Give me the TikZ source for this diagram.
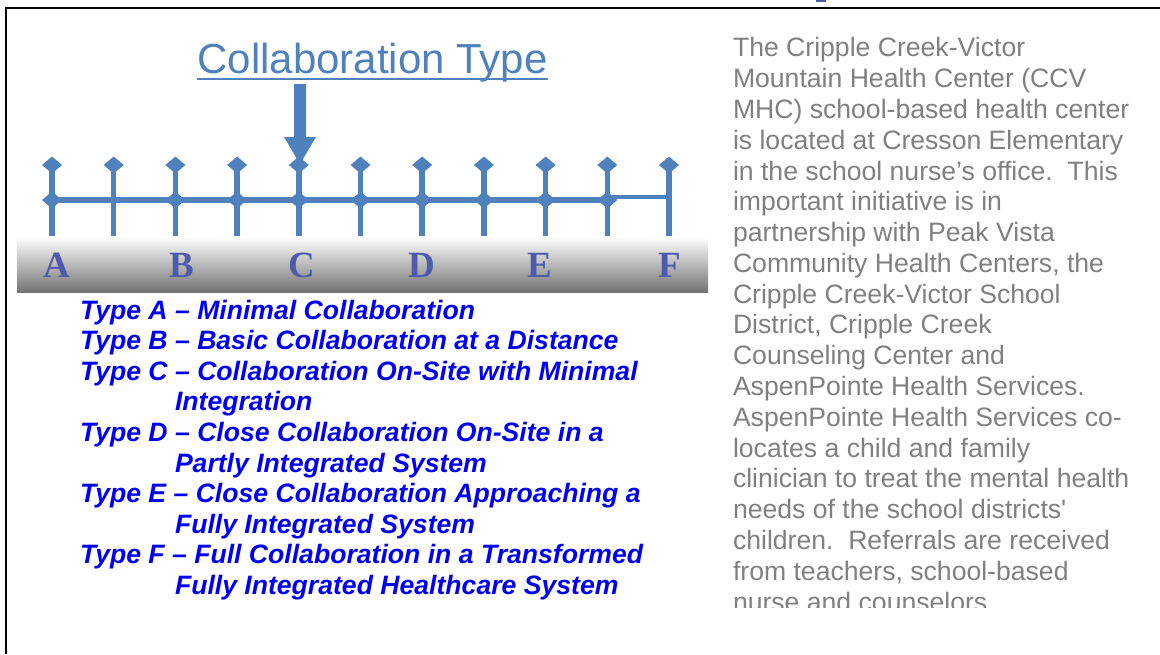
\documentclass[tikz,border=0pt]{standalone}
\usepackage{fontspec}
\setmainfont{Liberation Sans}
\newfontfamily\letterfont{Liberation Serif}
\usepackage{tikz}
\usetikzlibrary{shapes.geometric}

\definecolor{scaleblue}{RGB}{79,129,189}
\definecolor{letterblue}{RGB}{79,91,170}
\definecolor{typeblue}{RGB}{0,0,245}
\definecolor{bodygray}{RGB}{128,128,128}

\begin{document}
\begin{tikzpicture}[x=1pt,y=-1pt,
  every node/.style={inner sep=0pt, outer sep=0pt},
  knob/.style={diamond, fill=scaleblue, minimum width=20pt, minimum height=17pt},
  tick/.style={scaleblue, line width=5.5pt},
  letter/.style={anchor=base, text=letterblue, font=\letterfont\bfseries\fontsize{37}{40}\selectfont},
  typeline/.style={anchor=base west, align=left, text=typeblue, font=\bfseries\itshape\fontsize{26.6}{30.6}\selectfont}]
\useasboundingbox (0,0) rectangle (1160,654);

% frame
\draw[line width=2.5pt] (6,654) -- (6,8) -- (1160,8);
\fill[letterblue] (816,0) rectangle (826,2);

% title and arrow
\node[anchor=base, text=scaleblue, font=\fontsize{42}{48}\selectfont] (title) at (372.5,73) {Collaboration Type};
\draw[scaleblue, line width=2pt] ([yshift=-6pt]title.base west) -- ([yshift=-6pt]title.base east);
\fill[scaleblue] (294,84) -- (306,84) -- (306,137) -- (316,137) -- (300,164) -- (284,137) -- (294,137) -- cycle;

% scale
\draw[scaleblue, line width=6pt] (52,200) -- (607.3,200);
\draw[scaleblue, line width=4pt] (607.3,197) -- (669,197);
\draw[tick] (52,165) -- (52,236);
\draw[tick] (113.7,165) -- (113.7,236);
\draw[tick] (175.4,165) -- (175.4,236);
\draw[tick] (237.1,165) -- (237.1,236);
\draw[tick] (298.8,165) -- (298.8,236);
\draw[tick] (360.5,165) -- (360.5,236);
\draw[tick] (422.2,165) -- (422.2,236);
\draw[tick] (483.9,165) -- (483.9,236);
\draw[tick] (545.6,165) -- (545.6,236);
\draw[tick] (607.3,165) -- (607.3,236);
\draw[tick] (669,165) -- (669,236);

\node[knob] (k1) at (52,165) {};
\node[knob] (k2) at (113.7,165) {};
\node[knob] (k3) at (175.4,165) {};
\node[knob] (k4) at (237.1,165) {};
\node[knob] (k5) at (298.8,165) {};
\node[knob] (k6) at (360.5,165) {};
\node[knob] (k7) at (422.2,165) {};
\node[knob] (k8) at (483.9,165) {};
\node[knob] (k9) at (545.6,165) {};
\node[knob] (k10) at (607.3,165) {};
\node[knob] (k11) at (669,165) {};

\node[knob] (j1) at (52,200) {};
\node[knob] (j3) at (175.4,200) {};
\node[knob] (j4) at (237.1,200) {};
\node[knob] (j5) at (298.8,200) {};
\node[knob] (j6) at (360.5,200) {};
\node[knob] (j7) at (422.2,200) {};
\node[knob] (j8) at (483.9,200) {};
\node[knob] (j9) at (545.6,200) {};
\node[knob] (j10) at (607.3,200) {};

% shaded band with the letters
\shade[top color=white, middle color=black!16, bottom color=black!55] (17,237) rectangle (708,292);
\node[letter] (la) at (57,277) {A};
\node[letter] (lb) at (182,277) {B};
\node[letter] (lc) at (302,277) {C};
\node[letter] (ld) at (422,277) {D};
\node[letter] (le) at (540,277) {E};
\node[letter] (lf) at (670,277) {F};

% types (base = last line)
\node[typeline] (typeA) at (80,319) {Type A – Minimal Collaboration};
\node[typeline] (typeB) at (80,349.6) {Type B – Basic Collaboration at a Distance};
\node[typeline] (typeC) at (80,410.8) {Type C – Collaboration On-Site with Minimal\\\hspace*{95pt}Integration};
\node[typeline] (typeD) at (80,472) {Type D – Close Collaboration On-Site in a\\\hspace*{95pt}Partly Integrated System};
\node[typeline] (typeE) at (80,533.2) {Type E – Close Collaboration Approaching a\\\hspace*{95pt}Fully Integrated System};
\node[typeline] (typeF) at (80,594.4) {Type F – Full Collaboration in a Transformed\\\hspace*{95pt}Fully Integrated Healthcare System};

% text on the right
\begin{scope}
\clip (700,20) rectangle (1160,607);
\node[anchor=base west, align=left, text=bodygray, font=\fontsize{26.6}{30.78}\selectfont] (about) at (733,611)
{The Cripple Creek-Victor\\
Mountain Health Center (CCV\\
MHC) school-based health center\\
is located at Cresson Elementary\\
in the school nurse’s office.\ \ This\\
important initiative is in\\
partnership with Peak Vista\\
Community Health Centers, the\\
Cripple Creek-Victor School\\
District, Cripple Creek\\
Counseling Center and\\
AspenPointe Health Services.\\
AspenPointe Health Services co-\\
locates a child and family\\
clinician to treat the mental health\\
needs of the school districts\textquotesingle\\
children.\ \ Referrals are received\\
from teachers, school-based\\
nurse and counselors};
\end{scope}
\end{tikzpicture}
\end{document}
